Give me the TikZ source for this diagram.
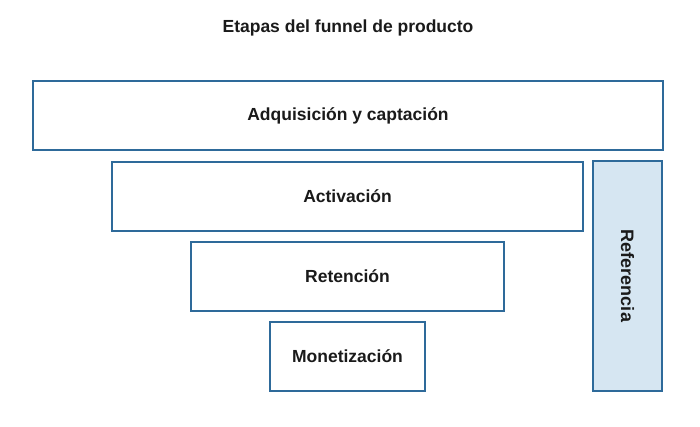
\documentclass[tikz,border=0pt]{standalone}
\usepackage{fontspec}
\setmainfont{Liberation Sans}
\definecolor{boxblue}{HTML}{2E6A9A}
\definecolor{reffill}{HTML}{D6E6F2}
\definecolor{txt}{HTML}{1A1A1A}
\begin{document}
\begin{tikzpicture}[x=1pt,y=-1pt,
  stage/.style={draw=boxblue,line width=2.8pt,fill=white,inner sep=0pt},
  lbl/.style={font=\fontsize{17.5}{20}\selectfont\bfseries,text=txt}]
\useasboundingbox (0,0) rectangle (700,427);
\node[lbl] (title) at (348,28) {Etapas del funnel de producto};
\node[stage,minimum width=630pt,minimum height=69pt] (adq) at (348,115.5) {};
\node[lbl] at (adq.center) {Adquisición y captación};
\node[stage,minimum width=471pt,minimum height=69pt] (act) at (347.5,196.5) {};
\node[lbl] at (act.center) {Activación};
\node[stage,minimum width=313pt,minimum height=69pt] (ret) at (347.5,276.5) {};
\node[lbl] at (ret.center) {Retención};
\node[stage,minimum width=155pt,minimum height=69pt] (mon) at (347.5,356.5) {};
\node[lbl] at (mon.center) {Monetización};
\node[stage,fill=reffill,minimum width=69pt,minimum height=230pt] (ref) at (627.5,276) {};
\node[lbl,rotate=-90,font=\fontsize{18}{20}\selectfont\bfseries] at (ref.center) {Referencia};
\end{tikzpicture}
\end{document}
